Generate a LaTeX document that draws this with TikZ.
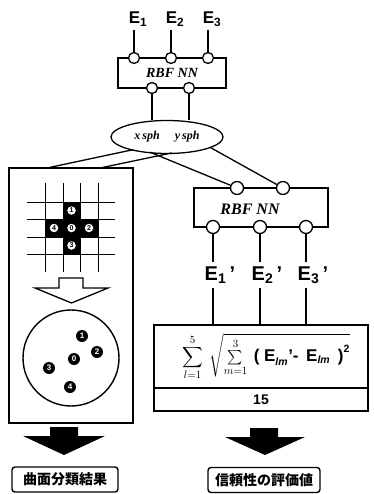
\documentclass[tikz,border=0pt]{standalone}
\usepackage{amsmath}
\usepackage{fontspec}
\setmainfont{Liberation Serif}
\setsansfont{Liberation Sans}
\newfontfamily\jpfont{Noto Sans CJK JP}
\usepackage{tikz}
\usetikzlibrary{positioning,shapes.geometric}

\newcommand{\bigsf}{\fontsize{17}{17}\selectfont\sffamily\bfseries}
\newcommand{\lmsub}{\text{\sffamily\bfseries\itshape lm}}

\begin{document}
\begin{tikzpicture}[x=1pt, y=-1pt,
        wire/.style={line width=1.3pt},
        gridline/.style={line width=0.9pt},
        port/.style={circle, draw, line width=1.3pt, fill=white, minimum size=11pt, inner sep=0pt},
        bigport/.style={port, minimum size=13pt},
        netbox/.style={rectangle, draw, line width=1.4pt, inner sep=0pt},
        netlabel/.style={font=\fontsize{14}{14}\selectfont\bfseries\itshape},
        elabel/.style={font=\fontsize{17}{17}\selectfont\sffamily\bfseries, inner sep=1pt},
        cellnum/.style={circle, fill=white, inner sep=0pt, minimum size=8.5pt, font=\fontsize{7}{7}\selectfont\sffamily\bfseries},
        dot/.style={circle, fill=black, inner sep=0pt, minimum size=12pt, text=white, font=\fontsize{8}{8}\selectfont\sffamily\bfseries},
        result/.style={rectangle, rounded corners=3pt, draw, line width=1.4pt, minimum height=25pt, font=\fontsize{14}{14}\selectfont\jpfont\bfseries}
    ]
    \useasboundingbox (0,0) rectangle (373,494);

    % Upper network
    \node[netbox, minimum width=108pt, minimum height=30pt, netlabel] (net1) at (172,73) {RBF NN};
    \foreach \n/\x in {1/134,2/171,3/208} {
        \node[elabel] (e\n) at (\x+4,19) {E\textsubscript{\n}};
        \node[port] (in\n) at (\x,58) {};
        \draw[wire, shorten <=3pt] (in\n |- e\n.south) -- (in\n.north);
    }
    \node[port] (o1) at (152,88) {};
    \node[port] (o2) at (189,88) {};

    % Surface parameters
    \node[ellipse, draw, line width=1.3pt, minimum width=112pt, minimum height=33pt, inner sep=0pt,
        font=\fontsize{12}{12}\selectfont\bfseries\itshape] (sph) at (167,137) {x\,sph\hspace{15pt}y\,sph};
    \draw[wire] (o1.south) -- (o1 |- sph.north);
    \draw[wire] (o2.south) -- (o2 |- sph.north);
    \coordinate (sa) at (133,149.7);
    \coordinate (sb) at (172,152.9);
    \coordinate (sc) at (150,152.2);
    \coordinate (sd) at (210,147.3);

    % Classification
    \node[netbox, minimum width=124pt, minimum height=255pt] (cls) at (71,295.5) {};
    \coordinate (ca) at (47,168);
    \coordinate (cb) at (100,168);
    \draw[wire] (sa) -- (ca);
    \draw[wire] (sb) -- (cb);
    \foreach \x/\y/\n in {71.5/210.5/1, 54/228/4, 71.5/228/0, 89/228/2, 71.5/245.5/3} {
        \fill (\x-9,\y-9) rectangle (\x+9,\y+9);
    }
    \foreach \x in {45,63,80,98}
        \draw[gridline] (\x,183) -- (\x,272);
    \foreach \y in {202,219,237,254}
        \draw[gridline] (27,\y) -- (115,\y);
    \foreach \x/\y/\n in {71.5/210.5/1, 54/228/4, 71.5/228/0, 89/228/2, 71.5/245.5/3} {
        \node[cellnum] (g\n) at (\x,\y) {\n};
    }
    \draw[wire, fill=white] (59,278) -- (83,278) -- (83,288) -- (108,288) -- (71.5,303) -- (35,288) -- (59,288) -- cycle;
    \node[circle, draw, line width=1.4pt, minimum size=96pt] (map) at (71,358) {};
    \foreach \x/\y/\n in {82/336/1, 97/352/2, 74/359/0, 49/368/3, 70/387/4} {
        \node[dot] (m\n) at (\x,\y) {\n};
    }

    % Lower network
    \node[netbox, minimum width=134pt, minimum height=39pt] (net2) at (261,207.5) {};
    \node[netlabel, font=\fontsize{16}{16}\selectfont\bfseries\itshape] (net2lab) at (250,209) {RBF NN};
    \node[bigport] (q1) at (237,188) {};
    \node[bigport] (q2) at (283,188) {};
    \draw[wire] (sc) -- (q1);
    \draw[wire] (sd) -- (q2);

    % Reliability
    \node[netbox, minimum width=214pt, minimum height=86pt] (fbox) at (261,368) {};
    \coordinate (dl) at (154,388);
    \coordinate (dr) at (368,388);
    \draw[wire] (dl) -- (dr);
    \foreach \n/\x in {1/213,2/260,3/306} {
        \node[bigport] (r\n) at (\x,227) {};
        \node[elabel, font=\fontsize{20}{20}\selectfont\sffamily\bfseries] (f\n) at (\x+7,275) {E\textsubscript{\n}\,'};
        \draw[wire, shorten >=3pt] (r\n.south) -- (r\n |- f\n.north);
        \draw[wire, shorten <=3pt] (r\n |- f\n.south) -- (r\n |- fbox.north);
    }
    \node[font=\fontsize{15}{17}\selectfont, inner sep=0pt] (eq) at (266,357)
        {$\displaystyle\sum_{l=1}^{5}\;\sqrt{\textstyle\sum\limits_{m=1}^{3}\;\text{\bigsf ( E}_{\lmsub}\text{\bigsf '-\, E}_{\lmsub}\text{\bigsf\, )}^{\text{\sffamily\bfseries 2}}}$};
    \node[font=\fontsize{14}{14}\selectfont\sffamily\bfseries] (den) at (261,399.5) {15};

    % Results
    \fill (50,427) -- (78,427) -- (78,436) -- (105,436) -- (64,455) -- (23,436) -- (50,436) -- cycle;
    \fill (250,428) -- (278,428) -- (278,437) -- (305,437) -- (265,455) -- (225,437) -- (250,437) -- cycle;
    \node[result, minimum width=106pt] (res1) at (65,479.5) {曲面分類結果};
    \node[result, minimum width=112pt] (res2) at (264,480) {信頼性の評価値};
\end{tikzpicture}
\end{document}
